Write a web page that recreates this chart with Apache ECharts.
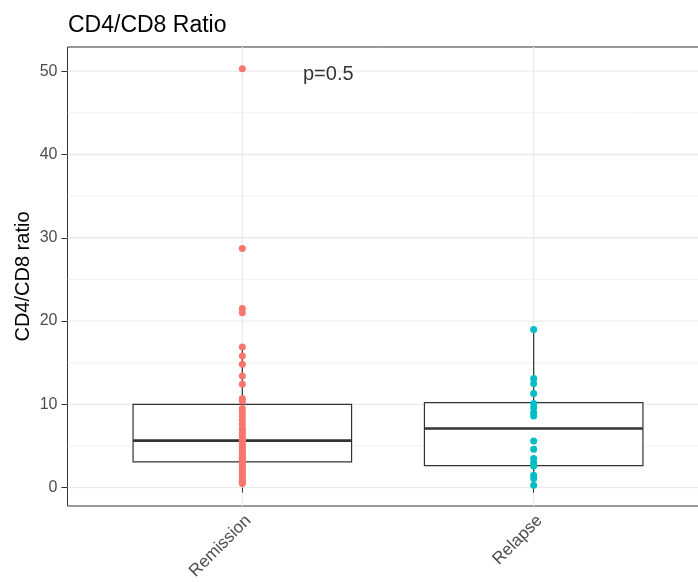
<!DOCTYPE html>
<html><head><meta charset="utf-8">
<script src="https://cdn.jsdelivr.net/npm/echarts@6/dist/echarts.min.js"></script>
<style>html,body{margin:0;padding:0;background:#fff}#c{width:698px;height:582px}</style>
</head><body><div id="c"></div>
<script>
// ---- data ----
const categories = ['Remission', 'Relapse'];
const remissionValues = [50.3, 28.7, 21.5, 21.0, 16.9, 15.8, 14.8, 13.4, 12.4, 10.7, 10.4,
  9.5, 9.1, 8.6, 8.1, 7.6,
  7.1, 6.8, 6.5, 6.2, 5.9, 5.7, 5.6, 5.3, 5.0, 4.8, 4.5, 4.2, 4.0, 3.7, 3.5, 3.3, 3.2,
  3.0, 2.7, 2.4, 2.1, 1.9, 1.6, 1.3, 1.1, 0.9, 0.7, 0.5];
const relapseValues = [19.0, 13.1, 12.5, 11.3, 10.1, 9.6, 9.0, 8.6, 5.6, 4.6, 3.5, 3.0, 2.6, 1.5, 1.1, 0.3];
// [lower whisker, Q1, median, Q3, upper whisker]
const remissionBox = [0.5, 3.1, 5.65, 10.0, 16.9];
const relapseBox = [0.3, 2.65, 7.1, 10.2, 19.0];
const yTicks = [0, 10, 20, 30, 40, 50];
const yMinorGrid = [5, 15, 25, 35, 45];
const xPositions = [1, 2];
const pLabel = 'p=0.5';
const pLabelPos = [1.295, 49.6];

const FONT = '"Liberation Sans", Arial, sans-serif';
const chart = echarts.init(document.getElementById('c'), null, {renderer: 'canvas'});

const gridData = [];
yTicks.forEach(v => gridData.push(['h', v, 1.3]));
yMinorGrid.forEach(v => gridData.push(['h', v, 0.7]));
xPositions.forEach(v => gridData.push(['v', v, 1.3]));

const boxData = [[xPositions[0]].concat(remissionBox), [xPositions[1]].concat(relapseBox)];

const option = {
  animation: false,
  title: {
    text: 'CD4/CD8 Ratio', left: 63, top: 9,
    textStyle: {fontFamily: FONT, fontSize: 23, fontWeight: 'normal', color: '#000'}
  },
  grid: {
    left: 67.5, top: 47, width: 641, height: 459,
    containLabel: false, outerBoundsMode: 'none',
    show: true, borderColor: '#333333', borderWidth: 1, backgroundColor: 'transparent'
  },
  xAxis: {
    type: 'value', min: 0.4, max: 2.6,
    axisLine: {show: false},
    splitLine: {show: false},
    axisTick: {show: true, length: 5, customValues: xPositions, lineStyle: {color: '#333333'}},
    axisLabel: {
      customValues: xPositions, rotate: 45, margin: 6,
      align: 'right', verticalAlign: 'top',
      fontFamily: FONT, fontSize: 17, color: '#4D4D4D',
      formatter: v => categories[Math.round(v) - 1] || ''
    }
  },
  yAxis: {
    type: 'value', min: -2.205, max: 52.905,
    name: 'CD4/CD8 ratio', nameLocation: 'middle', nameRotate: 90, nameGap: 34,
    nameMoveOverlap: false,
    nameTextStyle: {fontFamily: FONT, fontSize: 20, color: '#000'},
    axisLine: {show: false},
    splitLine: {show: false},
    axisTick: {show: true, length: 6, customValues: yTicks, lineStyle: {color: '#333333'}},
    axisLabel: {customValues: yTicks, margin: 10, fontFamily: FONT, fontSize: 16, color: '#4D4D4D'}
  },
  series: [
    {
      type: 'custom', z: 0, silent: true,
      data: gridData,
      encode: {x: -1, y: -1},
      renderItem: function (params, api) {
        const cs = params.coordSys;
        const kind = gridData[params.dataIndex][0];
        const v = gridData[params.dataIndex][1];
        const w = gridData[params.dataIndex][2];
        if (kind === 'h') {
          const y = api.coord([1, v])[1];
          return {type: 'line', shape: {x1: cs.x, y1: y, x2: cs.x + cs.width, y2: y},
            style: {stroke: '#EBEBEB', lineWidth: w}};
        }
        const x = api.coord([v, 0])[0];
        return {type: 'line', shape: {x1: x, y1: cs.y, x2: x, y2: cs.y + cs.height},
          style: {stroke: '#EBEBEB', lineWidth: w}};
      }
    },
    {
      type: 'custom', z: 2, silent: true,
      data: boxData,
      encode: {x: 0, y: [1, 2, 3, 4, 5]},
      renderItem: function (params, api) {
        const x = api.value(0);
        const pLo = api.coord([x, api.value(1)]);
        const pQ1 = api.coord([x, api.value(2)]);
        const pMed = api.coord([x, api.value(3)]);
        const pQ3 = api.coord([x, api.value(4)]);
        const pHi = api.coord([x, api.value(5)]);
        const half = api.size([0.75, 0])[0] / 2;
        const cx = pQ1[0];
        const stroke = '#333333';
        return {
          type: 'group',
          children: [
            {type: 'line', shape: {x1: cx, y1: pLo[1], x2: cx, y2: pQ1[1]}, style: {stroke: stroke, lineWidth: 1.2}},
            {type: 'line', shape: {x1: cx, y1: pQ3[1], x2: cx, y2: pHi[1]}, style: {stroke: stroke, lineWidth: 1.2}},
            {type: 'rect', shape: {x: cx - half, y: pQ3[1], width: 2 * half, height: pQ1[1] - pQ3[1]},
              style: {fill: '#FFFFFF', stroke: stroke, lineWidth: 1.2}},
            {type: 'line', shape: {x1: cx - half, y1: pMed[1], x2: cx + half, y2: pMed[1]}, style: {stroke: stroke, lineWidth: 2.6}}
          ]
        };
      }
    },
    {
      type: 'scatter', z: 5, silent: true,
      symbol: 'circle', symbolSize: 7,
      itemStyle: {color: '#F8766D', opacity: 1},
      data: remissionValues.map(v => [xPositions[0], v])
    },
    {
      type: 'scatter', z: 5, silent: true,
      symbol: 'circle', symbolSize: 7,
      itemStyle: {color: '#00BFC4', opacity: 1},
      data: relapseValues.map(v => [xPositions[1], v])
    },
    {
      type: 'scatter', z: 6, silent: true,
      symbolSize: 0,
      data: [pLabelPos],
      label: {show: true, position: 'inside', formatter: pLabel,
        fontFamily: FONT, fontSize: 20, color: '#000'}
    }
  ]
};
chart.setOption(option);
</script>
</body></html>
